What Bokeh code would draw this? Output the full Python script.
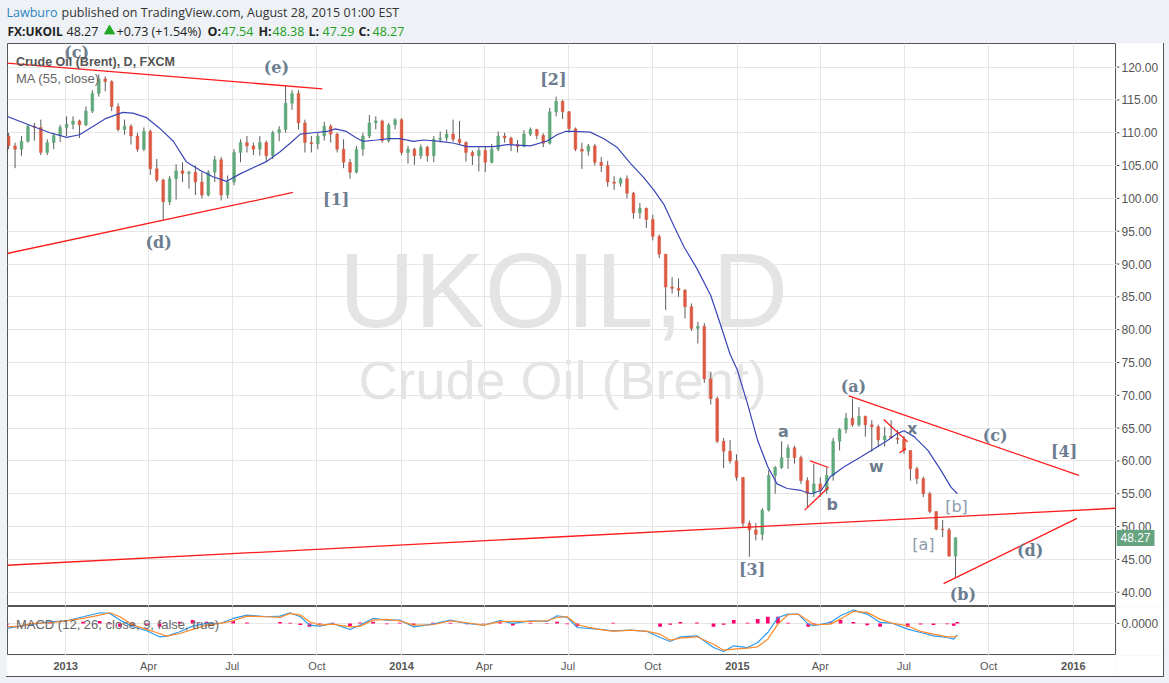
import pandas as pd
from bokeh.plotting import figure
from bokeh.layouts import column, row
from bokeh.models import Range1d, FixedTicker, Label, ColumnDataSource, Spacer
from bokeh.core.properties import value
from bokeh.embed import file_html
from bokeh.resources import INLINE

# ---------------- data (weekly candles) ----------------
first_week = "2012-10-29"
week_open = [109.5, 108.0, 107.5, 108.7, 111.0, 110.8, 107.0, 108.5, 109.6, 110.8,
             111.3, 111.8, 111.2, 113.3, 116.0, 118.2, 117.8, 114.0, 110.5, 111.0,
             109.5, 107.5, 110.2, 104.5, 102.8, 99.5, 103.0, 104.2, 103.8, 104.0,
             102.5, 100.5, 104.0, 105.9, 100.5, 102.5, 107.0, 108.5, 108.0, 107.5,
             108.5, 106.5, 110.0, 110.5, 114.5, 116.0, 111.5, 108.5, 108.3, 109.5,
             111.0, 109.8, 107.5, 105.5, 104.0, 107.5, 109.5, 111.5, 111.8, 108.8,
             111.2, 112.0, 107.0, 107.5, 106.5, 107.8, 106.5, 109.0, 109.2, 109.8,
             109.0, 108.5, 107.0, 106.5, 107.3, 105.5, 107.5, 109.5, 109.2, 108.2,
             107.9, 109.8, 110.5, 109.6, 108.4, 113.2, 114.8, 113.2, 110.6, 107.5,
             107.2, 108.0, 105.5, 105.0, 102.5, 102.3, 103.0, 100.8, 97.8, 98.5,
             96.8, 94.2, 91.5, 86.5, 86.3, 86.0, 83.5, 80.2, 80.5, 72.5,
             69.5, 63.0, 61.5, 60.0, 57.5, 50.5, 49.5, 48.8, 52.5, 57.8,
             59.0, 60.5, 62.0, 60.5, 57.0, 55.0, 56.5, 55.5, 57.8, 63.0,
             64.8, 66.5, 65.5, 66.8, 65.5, 65.2, 63.2, 63.8, 63.5, 63.3,
             61.6, 58.8, 57.3, 55.0, 52.3, 49.6, 49.5, 45.5]
week_high = [110.0, 108.5, 109.5, 111.3, 111.5, 112.0, 109.0, 110.0, 111.2, 112.5,
             112.5, 112.0, 114.0, 116.5, 118.9, 118.6, 118.0, 114.5, 112.0, 111.3,
             110.0, 110.8, 110.5, 106.0, 103.0, 103.4, 105.2, 105.5, 104.2, 105.0,
             104.0, 104.3, 106.5, 106.3, 103.5, 107.5, 109.0, 109.5, 108.5, 109.5,
             108.8, 110.3, 111.0, 117.1, 116.5, 116.5, 112.0, 109.5, 110.0, 111.7,
             111.3, 110.0, 109.0, 106.0, 108.0, 110.0, 112.7, 112.5, 112.0, 111.5,
             112.2, 112.2, 108.0, 107.7, 108.2, 108.0, 109.5, 110.2, 110.5, 112.0,
             111.8, 108.7, 107.3, 107.8, 107.8, 108.3, 110.2, 110.0, 109.4, 108.9,
             110.4, 110.8, 110.6, 109.9, 113.8, 115.5, 115.0, 113.3, 110.8, 108.5,
             108.3, 108.3, 106.3, 105.7, 103.4, 103.2, 103.5, 101.0, 99.3, 98.6,
             97.5, 94.5, 91.5, 88.0, 87.8, 86.2, 84.0, 81.2, 81.0, 73.5,
             69.8, 63.5, 63.2, 61.0, 57.5, 50.9, 50.5, 52.8, 58.6, 59.2,
             63.0, 62.5, 62.3, 60.8, 57.5, 59.6, 57.5, 59.0, 63.5, 65.0,
             67.3, 69.5, 68.2, 66.9, 66.2, 65.5, 65.2, 66.2, 64.7, 63.8,
             61.6, 59.1, 57.6, 55.3, 52.3, 51.0, 49.8, 48.4]
week_low = [107.5, 104.6, 106.5, 108.5, 108.8, 106.6, 106.6, 107.5, 108.6, 109.5,
            110.5, 109.2, 111.0, 113.0, 115.5, 116.3, 113.3, 110.2, 109.7, 108.2,
            107.1, 107.2, 103.6, 102.5, 96.7, 99.0, 99.8, 102.5, 101.5, 100.5,
            100.0, 100.3, 102.5, 99.7, 100.0, 102.0, 105.5, 107.0, 106.6, 106.5,
            105.6, 106.0, 108.7, 110.0, 113.5, 110.5, 107.0, 107.0, 107.5, 108.8,
            108.5, 107.0, 104.6, 103.0, 103.8, 106.5, 109.2, 110.5, 108.5, 108.5,
            110.5, 106.6, 105.3, 105.1, 106.0, 105.6, 105.5, 108.5, 108.7, 108.6,
            108.2, 105.6, 105.1, 104.1, 104.0, 105.3, 107.2, 108.5, 107.2, 107.0,
            107.8, 109.5, 109.0, 107.8, 108.2, 112.5, 112.1, 110.0, 107.2, 104.5,
            106.5, 105.0, 104.0, 101.8, 101.3, 101.8, 100.0, 96.9, 96.9, 95.5,
            93.6, 90.9, 83.0, 85.5, 85.0, 81.7, 79.8, 77.9, 71.9, 68.6,
            62.7, 58.9, 59.6, 57.0, 50.0, 45.4, 47.9, 47.9, 52.3, 55.0,
            58.8, 58.8, 59.6, 56.5, 53.0, 54.5, 54.5, 55.0, 57.0, 61.6,
            64.2, 65.2, 65.2, 63.7, 61.4, 62.1, 62.2, 63.4, 62.6, 61.1,
            57.0, 56.5, 54.5, 52.0, 49.4, 48.4, 45.4, 42.3]
week_close = [108.0, 107.5, 108.7, 111.0, 110.8, 107.0, 108.5, 109.6, 110.8, 111.3,
              111.8, 111.2, 113.3, 116.0, 118.2, 117.8, 114.0, 110.5, 111.0, 109.5,
              107.5, 110.2, 104.5, 102.8, 99.5, 103.0, 104.2, 103.8, 104.0, 102.5,
              100.5, 104.0, 105.9, 100.5, 102.5, 107.0, 108.5, 108.0, 107.5, 108.5,
              106.5, 110.0, 110.5, 114.5, 116.0, 111.5, 108.5, 108.3, 109.5, 111.0,
              109.8, 107.5, 105.5, 104.0, 107.5, 109.5, 111.5, 111.8, 108.8, 111.2,
              112.0, 107.0, 107.5, 106.5, 107.8, 106.5, 109.0, 109.2, 109.8, 109.0,
              108.5, 107.0, 106.5, 107.3, 105.5, 107.5, 109.5, 109.2, 108.2, 107.9,
              109.8, 110.5, 109.6, 108.4, 113.2, 114.8, 113.2, 110.6, 107.5, 107.2,
              108.0, 105.5, 105.0, 102.5, 102.3, 103.0, 100.8, 97.8, 98.5, 96.8,
              94.2, 91.5, 86.5, 86.3, 86.0, 83.5, 80.2, 80.5, 72.5, 69.5,
              63.0, 61.5, 60.0, 57.5, 50.5, 49.5, 48.8, 52.5, 57.8, 59.0,
              60.5, 62.0, 60.5, 57.0, 55.0, 56.5, 55.5, 57.8, 63.0, 64.8,
              66.5, 65.5, 66.8, 65.5, 65.2, 63.2, 63.8, 63.5, 63.3, 61.6,
              58.8, 57.3, 55.0, 52.3, 49.6, 49.5, 45.5, 48.27]

ma_dates = ["2012-10-29", "2012-11-26", "2012-12-15", "2013-01-02", "2013-01-16", "2013-01-31",
            "2013-02-14", "2013-03-04", "2013-03-15", "2013-03-30", "2013-04-13", "2013-04-28",
            "2013-05-12", "2013-05-27", "2013-06-10", "2013-06-25", "2013-07-09", "2013-08-07",
            "2013-08-22", "2013-09-02", "2013-09-13", "2013-09-27", "2013-10-12", "2013-10-21",
            "2013-11-02", "2013-11-13", "2013-11-20", "2013-12-05", "2013-12-19", "2013-12-30",
            "2014-01-14", "2014-01-25", "2014-02-12", "2014-02-27", "2014-03-13", "2014-03-28",
            "2014-04-11", "2014-04-26", "2014-05-21", "2014-06-08", "2014-06-19", "2014-06-28",
            "2014-07-07", "2014-07-25", "2014-08-09", "2014-08-23", "2014-09-07", "2014-09-21",
            "2014-10-02", "2014-10-13", "2014-10-24", "2014-11-04", "2014-11-18", "2014-12-03",
            "2014-12-14", "2014-12-24", "2015-01-01", "2015-01-12", "2015-01-23", "2015-02-03",
            "2015-02-13", "2015-02-24", "2015-03-11", "2015-03-22", "2015-04-02", "2015-04-12",
            "2015-04-27", "2015-05-15", "2015-05-30", "2015-06-13", "2015-06-24", "2015-07-01",
            "2015-07-12", "2015-07-27", "2015-08-10", "2015-08-21", "2015-08-28"]
ma_values = [112.5, 111.0, 110.0, 109.3, 109.7, 111.0, 112.2, 113.1, 113.0, 112.3, 110.7, 108.7,
             105.6, 104.3, 103.3, 102.6, 103.7, 105.6, 107.1, 108.4, 109.8, 110.0, 110.2, 110.6,
             110.2, 109.2, 108.7, 108.9, 109.1, 109.1, 108.7, 108.9, 108.7, 108.4, 107.9, 107.9,
             107.9, 108.2, 108.0, 108.75, 109.7, 110.2, 110.2, 110.1, 109.1, 107.8, 105.3, 103.2,
             101.3, 99.1, 95.8, 92.6, 89.3, 85.2, 80.6, 76.25, 73.8, 68.7, 63.1, 59.1,
             56.5, 55.8, 55.5, 55.0, 55.5, 57.6, 59.1, 60.6, 61.9, 63.1, 64.2, 64.6,
             63.7, 61.6, 58.6, 56.0, 55.0]

macd_dates = ["2012-10-29", "2012-11-12", "2012-11-26", "2012-12-15", "2013-01-02", "2013-01-20",
              "2013-02-07", "2013-02-18", "2013-03-01", "2013-03-15", "2013-03-30", "2013-04-13",
              "2013-04-21", "2013-05-05", "2013-05-19", "2013-06-03", "2013-06-18", "2013-07-02",
              "2013-07-17", "2013-08-08", "2013-08-22", "2013-09-02", "2013-09-13", "2013-09-23",
              "2013-10-04", "2013-10-18", "2013-11-06", "2013-11-17", "2013-12-01", "2013-12-16",
              "2013-12-30", "2014-01-14", "2014-02-04", "2014-02-23", "2014-03-13", "2014-03-31",
              "2014-04-18", "2014-05-02", "2014-05-21", "2014-06-08", "2014-06-19", "2014-06-30",
              "2014-07-11", "2014-08-02", "2014-08-19", "2014-09-07", "2014-09-25", "2014-10-09",
              "2014-10-20", "2014-10-31", "2014-11-18", "2014-12-06", "2014-12-17", "2014-12-28",
              "2015-01-12", "2015-01-23", "2015-02-03", "2015-02-14", "2015-02-25", "2015-03-08",
              "2015-03-19", "2015-03-25", "2015-04-12", "2015-04-23", "2015-05-07", "2015-05-22",
              "2015-06-05", "2015-06-19", "2015-07-05", "2015-07-19", "2015-08-02", "2015-08-17",
              "2015-08-24", "2015-08-28"]
macd_line = [-1.09, -0.58, -0.15, 0.36, 0.58, 1.46, 2.34, 2.19, 0.73, -0.73, -1.6, -2.92,
             -2.77, -1.82, -0.58, 0.0, 0.0, 1.09, 1.82, 1.46, 1.6, 2.34, 1.46, -0.36,
             -0.58, 0.0, -1.31, -0.36, 1.09, 0.73, 0.73, -0.73, -0.15, 0.73, 0.0, -0.4,
             0.65, 0.0, 0.58, 0.44, 1.68, 1.31, -0.88, -1.24, -1.6, -1.46, -1.75, -3.07,
             -3.94, -2.92, -2.7, -5.26, -6.13, -4.89, -5.26, -4.16, -1.97, 1.31, 2.04, 2.04,
             -0.15, -0.5, 0.22, 1.68, 2.92, 2.04, 0.22, 0.0, -1.24, -1.97, -2.7, -3.07,
             -3.43, -2.48]
signal_line = [-0.73, -0.58, 0.0, 0.15, 0.58, 1.09, 1.82, 2.34, 1.46, -0.36, -1.31, -2.19,
               -2.77, -2.19, -1.31, -0.36, 0.0, 0.58, 1.6, 1.46, 1.31, 2.19, 1.82, 0.36,
               -0.36, -0.15, -0.73, -0.58, 0.73, 0.88, 0.58, -0.36, -0.29, 0.58, 0.15, -0.35,
               0.4, 0.44, 0.44, 0.58, 1.31, 1.46, -0.29, -1.24, -1.75, -1.46, -1.75, -2.34,
               -3.65, -3.21, -2.92, -4.53, -5.84, -5.62, -5.4, -5.11, -3.43, -0.15, 1.9, 2.04,
               0.58, -0.29, -0.15, 0.95, 2.63, 2.41, 0.95, 0.0, -0.51, -1.75, -2.34, -2.92,
               -2.92, -2.77]

# drawn trend lines (start date, start price, end date, end price)
trend_x0 = ["2012-10-29", "2012-10-29", "2012-10-29", "2015-05-02", "2015-08-13",
            "2015-03-15", "2015-03-21", "2015-06-09", "2015-06-26"]
trend_y0 = [120.6, 91.6, 44.1, 69.9, 41.3, 52.5, 60.0, 66.3, 61.2]
trend_x1 = ["2013-10-07", "2013-09-05", "2016-02-18", "2016-01-07", "2016-01-05",
            "2015-04-10", "2015-04-10", "2015-07-05", "2015-07-03"]
trend_y1 = [116.7, 100.9, 52.8, 57.8, 51.25, 56.0, 59.0, 62.9, 61.9]

# wave-count labels
wave_text = ["(c)", "(e)", "(d)", "[1]", "[2]", "[3]", "(a)", "(b)", "(c)", "(d)", "[4]"]
wave_date = ["2013-01-13", "2013-08-18", "2013-04-12", "2013-10-22", "2014-06-15", "2015-01-17",
             "2015-05-07", "2015-09-03", "2015-10-08", "2015-11-15", "2015-12-22"]
wave_price = [122.3, 119.9, 93.3, 99.9, 118.1, 43.4, 71.3, 39.7, 63.8, 46.3, 61.5]
minor_text = ["a", "b", "w", "x"]
minor_date = ["2015-02-20", "2015-04-14", "2015-06-01", "2015-07-10"]
minor_price = [64.5, 53.4, 59.2, 64.9]
sub_text = ["[a]", "[b]"]
sub_date = ["2015-07-22", "2015-08-27"]
sub_price = [47.2, 53.0]

tick_dates = ["2013-01-01", "2013-04-01", "2013-07-01", "2013-10-01", "2014-01-01", "2014-04-01",
              "2014-07-01", "2014-10-01", "2015-01-01", "2015-04-01", "2015-07-01", "2015-10-01",
              "2016-01-01"]
tick_labels = ["2013", "Apr", "Jul", "Oct", "2014", "Apr", "Jul", "Oct", "2015", "Apr", "Jul",
               "Oct", "2016"]
price_ticks = list(range(40, 125, 5))
macd_ticks = [0.0]
last_price = 48.27

# ---------------- helpers / styles ----------------
def ms(d):
    return pd.Timestamp(d).value / 1e6

DAY = 86400000.0
UP, DOWN, WICK = "#5fa97b", "#dc5a43", "#5c5c5c"
GRID = "#e6e6e6"
FRAME = "#555555"
AXTXT = "#555555"
LBL = "#6c7d8f"
BG = "#eef2f6"
TAG = "#66a37f"

x_start = ms("2012-10-29 19:00")
x_end = ms("2016-02-16 22:00")
y_lo, y_hi = 37.82, 123.6
tick_ms = [ms(d) for d in tick_dates]

n = len(week_close)
week_mid = [ms(d) for d in (pd.date_range(first_week, periods=n, freq="7D") + pd.Timedelta(days=2))]
src = ColumnDataSource(dict(
    x=week_mid, h=week_high, l=week_low,
    top=[max(o, c) for o, c in zip(week_open, week_close)],
    bottom=[min(o, c) for o, c in zip(week_open, week_close)],
    color=[UP if c >= o else DOWN for o, c in zip(week_open, week_close)],
))

def bare(width, height, x_range, y_range, fill="white"):
    f = figure(width=width, height=height, x_range=x_range, y_range=y_range,
               x_axis_location=None, y_axis_location=None, toolbar_location=None,
               output_backend="svg", min_border=0, outline_line_color=None,
               background_fill_color=fill, border_fill_color=fill)
    f.grid.visible = False
    return f

# ---------------- header ----------------
FULL_W = 1169
h = bare(FULL_W, 43, Range1d(0, FULL_W), Range1d(43, 0), fill=BG)
def htext(x, y, t, color="#333333", style="normal", size="13px"):
    h.text(x=[x], y=[y], text=[t], text_font=value("Open Sans"), text_font_size=size,
           text_color=color, text_font_style=style, text_baseline="middle", text_align="left")
htext(6, 12, "Lawburo", color="#2a86c0", size="12.5px")
htext(61, 12, "published on TradingView.com, August 28, 2015 01:00 EST", size="12.5px")
htext(7, 31, "FX:UKOIL", color="#222222", style="bold", size="12px")
htext(66, 31, "48.27", color="#222222", size="12.5px")
h.scatter(x=[109], y=[30.5], marker="triangle", size=10, color="#22a822")
htext(116, 31, "+0.73 (+1.54%)", color="#222222", size="12.5px")
for xx, k, v in [(207, "O:", "47.54"), (258, "H:", "48.38"), (308, "L:", "47.29"), (358, "C:", "48.27")]:
    htext(xx, 31, k, color="#222222", style="bold", size="12.5px")
    htext(xx + 14, 31, v, color="#22a022", size="12.5px")

# ---------------- main price pane ----------------
PLOT_W = 1110        # x 6 .. 1116 (frame 7 .. 1116)
AX_W = 47            # price-axis strip x 1116 .. 1163
MAIN_H = 563
p = figure(width=PLOT_W, height=MAIN_H, x_range=Range1d(x_start, x_end), y_range=Range1d(y_lo, y_hi),
           x_axis_location=None, y_axis_location=None, toolbar_location=None,
           output_backend="svg", min_border_left=1, min_border_right=0, min_border_top=0,
           min_border_bottom=0, background_fill_color="white", border_fill_color="white",
           outline_line_color=FRAME)
p.xgrid.ticker = FixedTicker(ticks=tick_ms)
p.ygrid.ticker = FixedTicker(ticks=price_ticks)
p.grid.grid_line_color = GRID

# watermark
p.add_layout(Label(x=ms("2014-06-26"), y=85.9, text="UKOIL, D", text_font="Liberation Sans",
                   text_font_size="105px", text_color="#e4e4e4", text_align="center",
                   text_baseline="middle", level="underlay"))
p.add_layout(Label(x=ms("2014-06-25"), y=72.4, text="Crude Oil (Brent)", text_font="Liberation Sans",
                   text_font_size="54px", text_color="#e4e4e4", text_align="center",
                   text_baseline="middle", level="underlay"))

# candles
p.segment(x0="x", y0="l", x1="x", y1="h", source=src, line_color=WICK, line_width=1)
p.vbar(x="x", width=3 * DAY, top="top", bottom="bottom", source=src,
       fill_color="color", line_color="color", line_width=0.5)

# moving average
p.line([ms(d) for d in ma_dates], ma_values, line_color="#3a46b8", line_width=1.2)

# trend lines
p.segment(x0=[ms(d) for d in trend_x0], y0=trend_y0, x1=[ms(d) for d in trend_x1], y1=trend_y1,
          line_color="#ff1a1a", line_width=1.3)

# wave labels
for t, d, v in zip(wave_text, wave_date, wave_price):
    p.add_layout(Label(x=ms(d), y=v, text=t, text_font="DejaVu Serif", text_font_style="bold",
                       text_font_size="16px", text_color=LBL, text_align="center",
                       text_baseline="middle"))
for t, d, v in zip(minor_text, minor_date, minor_price):
    p.add_layout(Label(x=ms(d), y=v, text=t, text_font="DejaVu Sans", text_font_style="bold",
                       text_font_size="16px", text_color=LBL, text_align="center",
                       text_baseline="middle"))
for t, d, v in zip(sub_text, sub_date, sub_price):
    p.add_layout(Label(x=ms(d), y=v, text=t, text_font="DejaVu Sans",
                       text_font_size="16px", text_color="#8d9cad", text_align="center",
                       text_baseline="middle"))

# legend texts
p.add_layout(Label(x=ms("2012-11-08"), y=120.85, text="Crude Oil (Brent), D, FXCM",
                   text_font="Liberation Sans", text_font_style="bold", text_font_size="12.5px",
                   text_color="#555555", text_baseline="middle"))
p.add_layout(Label(x=ms("2012-11-08"), y=118.3, text="MA (55, close)",
                   text_font="Liberation Sans", text_font_size="13px",
                   text_color="#666666", text_baseline="middle"))

# price-axis strip (tick marks, labels, last-price tag)
pa = bare(AX_W, MAIN_H, Range1d(0, AX_W), p.y_range)
pa.segment(x0=[0] * len(price_ticks), y0=price_ticks, x1=[3] * len(price_ticks), y1=price_ticks,
           line_color=FRAME, line_width=1)
pa.text(x=[5] * len(price_ticks), y=price_ticks, text=[f"{v:.2f}" for v in price_ticks],
        text_font=value("Liberation Sans"), text_font_size="12px", text_color=AXTXT,
        text_baseline="middle", text_align="left")
tag_half = 8 / (MAIN_H / (y_hi - y_lo))
pa.quad(left=[0], right=[38], bottom=[last_price - tag_half], top=[last_price + tag_half],
        fill_color=TAG, line_color=None)
pa.text(x=[4], y=[last_price], text=[f"{last_price:.2f}"], text_font=value("Liberation Sans"),
        text_font_size="12px", text_color="white", text_baseline="middle", text_align="left")

# ---------------- MACD pane ----------------
MACD_H = 49
m = figure(width=PLOT_W, height=MACD_H, x_range=p.x_range, y_range=Range1d(-7.0, 3.7),
           x_axis_location=None, y_axis_location=None, toolbar_location=None,
           output_backend="svg", min_border_left=1, min_border_right=0, min_border_top=0,
           min_border_bottom=0, background_fill_color="white", border_fill_color="white",
           outline_line_color=FRAME)
m.xgrid.ticker = FixedTicker(ticks=tick_ms)
m.ygrid.ticker = FixedTicker(ticks=macd_ticks)
m.grid.grid_line_color = GRID

macd_x = [ms(d) for d in macd_dates]
hist = [a - b for a, b in zip(macd_line, signal_line)]
m.vbar(x=macd_x, width=4 * DAY, top=hist, bottom=0, fill_color="#ff006e", line_color=None)
m.line(macd_x, macd_line, line_color="#2d9bf0", line_width=1.2)
m.line(macd_x, signal_line, line_color="#ff8a2a", line_width=1.2)
m.add_layout(Label(x=ms("2012-11-08"), y=-0.2, text="MACD (12, 26, close, 9, false, true)",
                   text_font="Liberation Sans", text_font_size="13px", text_color="#666666",
                   text_baseline="middle"))

ma_ax = bare(AX_W, MACD_H, Range1d(0, AX_W), m.y_range)
ma_ax.segment(x0=[0], y0=macd_ticks, x1=[3], y1=macd_ticks, line_color=FRAME)
ma_ax.text(x=[5], y=macd_ticks, text=[f"{v:.4f}" for v in macd_ticks],
           text_font=value("Liberation Sans"), text_font_size="12px", text_color=AXTXT,
           text_baseline="middle", text_align="left")

# ---------------- time-axis labels strip ----------------
xl = figure(width=PLOT_W, height=21, x_range=p.x_range, y_range=Range1d(0, 1),
            x_axis_location=None, y_axis_location=None, toolbar_location=None,
            output_backend="svg", min_border_left=1, min_border_right=0, min_border_top=0,
            min_border_bottom=0, background_fill_color="white", border_fill_color="white",
            outline_line_color=None)
xl.grid.visible = False
yr = [s.isdigit() for s in tick_labels]
xl.text(x=[t for t, b in zip(tick_ms, yr) if not b], y=[0.5] * yr.count(False),
        text=[s for s, b in zip(tick_labels, yr) if not b], text_font=value("Liberation Sans"),
        text_font_size="11px", text_color=AXTXT, text_align="center", text_baseline="middle")
xl.text(x=[t for t, b in zip(tick_ms, yr) if b], y=[0.5] * yr.count(True),
        text=[s for s, b in zip(tick_labels, yr) if b], text_font=value("Liberation Sans"),
        text_font_size="11px", text_font_style="bold", text_color=AXTXT,
        text_align="center", text_baseline="middle")
xl_pad = bare(AX_W, 21, Range1d(0, 1), Range1d(0, 1))

CW = PLOT_W + AX_W
BODY_H = MAIN_H + MACD_H + 21 + 1
bottom_line = Spacer(width=CW, height=1, styles={"background-color": FRAME})
chart = column(row(p, pa), row(m, ma_ax), row(xl, xl_pad), bottom_line)
right_line = Spacer(width=1, height=BODY_H, styles={"background-color": FRAME})
left_pad = Spacer(width=6, height=BODY_H)
layout = column(h, row(left_pad, chart, right_line))

html = file_html(layout, INLINE, title="UKOIL")
html = html.replace("</head>", "<style>html, body { background-color: %s; }</style></head>" % BG, 1)
open("out.html", "w").write(html)
